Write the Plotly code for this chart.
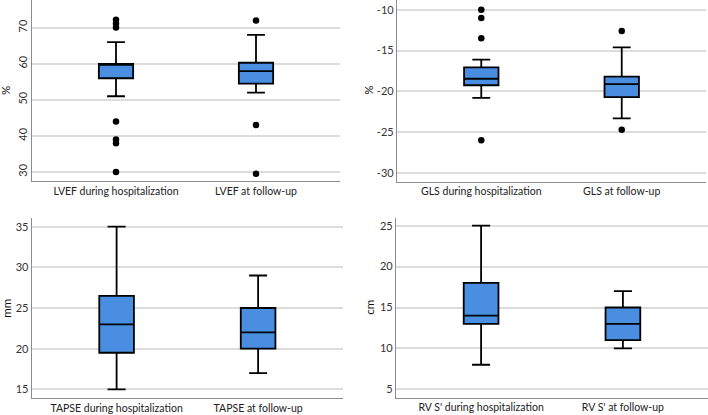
import plotly.graph_objects as go

# ---------------- data ----------------
lvef_cats = ["LVEF during hospitalization", "LVEF at follow-up"]
lvef_q1 = [56, 54.5]
lvef_med = [60, 58]
lvef_q3 = [60, 60.3]
lvef_lo = [51, 52]
lvef_hi = [66, 68]
lvef_out = [[72.2, 71.2, 70.1, 44, 39, 38, 30], [72, 43, 29.5]]
lvef_ticks = [30, 40, 50, 60, 70]

gls_cats = ["GLS during hospitalization", "GLS at follow-up"]
gls_q1 = [-19.25, -20.7]
gls_med = [-18.45, -19.1]
gls_q3 = [-17.05, -18.2]
gls_lo = [-20.8, -23.3]
gls_hi = [-16.1, -14.6]
gls_out = [[-10, -11, -13.5, -26], [-12.6, -24.7]]
gls_ticks = [-30, -25, -20, -15, -10]

tapse_cats = ["TAPSE during hospitalization", "TAPSE at follow-up"]
tapse_q1 = [19.5, 20]
tapse_med = [23, 22]
tapse_q3 = [26.5, 25]
tapse_lo = [15, 17]
tapse_hi = [35, 29]
tapse_out = [[], []]
tapse_ticks = [15, 20, 25, 30, 35]

rvs_cats = ["RV S' during hospitalization", "RV S' at follow-up"]
rvs_q1 = [13, 11]
rvs_med = [14, 13]
rvs_q3 = [18, 15]
rvs_lo = [8, 10]
rvs_hi = [25, 17]
rvs_out = [[], []]
rvs_ticks = [5, 10, 15, 20, 25]

panels = [
    dict(cats=lvef_cats, q1=lvef_q1, med=lvef_med, q3=lvef_q3, lo=lvef_lo, hi=lvef_hi, out=lvef_out,
         unit="%", yrange=[27.5, 77.7], ticks=lvef_ticks, tickangle=-90,
         xdom=[32/708, 340/708], ydom=[1-181/415, 1.0], title_x=5.5/708),
    dict(cats=gls_cats, q1=gls_q1, med=gls_med, q3=gls_q3, lo=gls_lo, hi=gls_hi, out=gls_out,
         unit="%", yrange=[-31.07, -8.8], ticks=gls_ticks, tickangle=0,
         xdom=[397/708, 706/708], ydom=[1-181.7/415, 1.0], title_x=369/708),
    dict(cats=tapse_cats, q1=tapse_q1, med=tapse_med, q3=tapse_q3, lo=tapse_lo, hi=tapse_hi, out=tapse_out,
         unit="mm", yrange=[13.9, 36.03], ticks=tapse_ticks, tickangle=0,
         xdom=[31.7/708, 343/708], ydom=[1-398.3/415, 1-218.3/415], title_x=6.5/708),
    dict(cats=rvs_cats, q1=rvs_q1, med=rvs_med, q3=rvs_q3, lo=rvs_lo, hi=rvs_hi, out=rvs_out,
         unit="cm", yrange=[3.97, 25.98], ticks=rvs_ticks, tickangle=0,
         xdom=[396/708, 708/708], ydom=[1-397.7/415, 1-217.7/415], title_x=370/708),
]

FONT = "Lato"
BOX_FILL = "#4A8EE2"

fig = go.Figure()
layout = dict(
    template="none",
    width=708, height=415,
    margin=dict(l=0, r=0, t=0, b=0, pad=0, autoexpand=False),
    paper_bgcolor="white", plot_bgcolor="white",
    showlegend=False,
    font=dict(family=FONT, size=10.5, color="#333333"),
    annotations=[],
)

for i, p in enumerate(panels):
    n = i + 1
    xa = "x" if n == 1 else f"x{n}"
    ya = "y" if n == 1 else f"y{n}"
    fig.add_trace(go.Box(
        x=p["cats"], q1=p["q1"], median=p["med"], q3=p["q3"],
        lowerfence=p["lo"], upperfence=p["hi"],
        fillcolor=BOX_FILL, line=dict(color="black", width=1.8),
        whiskerwidth=0.52, width=0.245, boxpoints=False,
        xaxis=xa, yaxis=ya, hoverinfo="skip",
    ))
    ox, oy = [], []
    for c, vals in zip(p["cats"], p["out"]):
        for v in vals:
            ox.append(c)
            oy.append(v)
    if ox:
        fig.add_trace(go.Scatter(
            x=ox, y=oy, mode="markers",
            marker=dict(color="black", size=6.5),
            xaxis=xa, yaxis=ya, hoverinfo="skip",
        ))
    xkey = "xaxis" if n == 1 else f"xaxis{n}"
    ykey = "yaxis" if n == 1 else f"yaxis{n}"
    layout[xkey] = dict(
        domain=p["xdom"], anchor=ya, type="category", automargin=False,
        categoryorder="array", categoryarray=p["cats"],
        range=[-0.6, 1.6], showgrid=False, zeroline=False,
        showline=True, linecolor="#8c8c8c", linewidth=1.2,
        ticks="", ticklen=0, tickfont=dict(family=FONT, size=10.5, color="#222222"),
    )
    layout[ykey] = dict(
        domain=p["ydom"], anchor=xa, range=p["yrange"], automargin=False,
        tickvals=p["ticks"], ticktext=[str(t) for t in p["ticks"]],
        tickangle=p["tickangle"],
        showgrid=True, gridcolor="#dcdcdc", gridwidth=1.5,
        zeroline=False, showline=True, linecolor="#8c8c8c", linewidth=1.2,
        ticks="", ticklen=0, tickfont=dict(family=FONT, size=11, color="#333333"),
    )
    ymid = (p["ydom"][0] + p["ydom"][1]) / 2
    layout["annotations"].append(dict(
        text=p["unit"], x=p["title_x"], y=ymid, xref="paper", yref="paper",
        xanchor="center", yanchor="middle", showarrow=False, textangle=-90,
        font=dict(family=FONT, size=11.5, color="#111111"),
    ))

fig.update_layout(**layout)
fig.write_html(
    "out.html",
    config={"displayModeBar": False},
    post_script="document.body.style.margin='0px';document.body.style.overflow='hidden';",
)
